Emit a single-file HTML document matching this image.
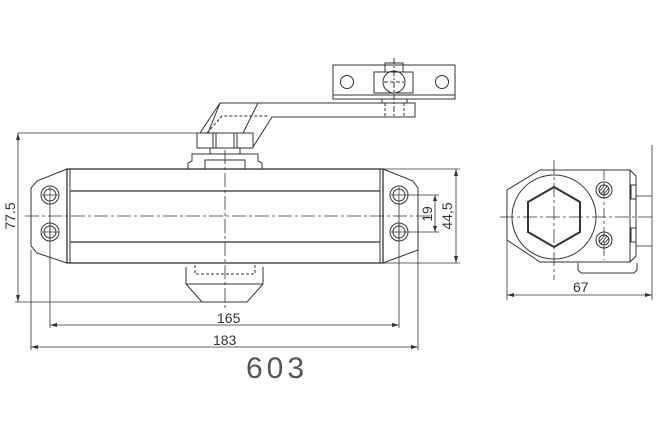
<!DOCTYPE html>
<html><head><meta charset="utf-8"><style>
html,body{margin:0;padding:0;background:#fff;width:661px;height:433px;overflow:hidden}
svg{display:block}
text{font-family:"Liberation Sans",sans-serif;fill:#333}
</style></head><body>
<svg width="661" height="433" viewBox="0 0 661 433" xmlns="http://www.w3.org/2000/svg">
<g fill="none" stroke="#333" stroke-width="1">
<!-- top bracket -->
<rect x="333" y="65" width="122" height="34"/>
<line x1="333" y1="95" x2="455" y2="95"/>
<circle cx="347" cy="82" r="6.5"/>
<circle cx="442" cy="82" r="6.5"/>
<rect x="374" y="72" width="39" height="21"/>
<rect x="385" y="63" width="18" height="9"/>
<circle cx="394" cy="82" r="11"/>
<line x1="384" y1="82" x2="404" y2="82" stroke-dasharray="4,2"/>
<line x1="394" y1="58" x2="394" y2="116" stroke-dasharray="6,2,2,2"/>
<rect x="382" y="99" width="25" height="4"/>
<line x1="385" y1="103" x2="385" y2="117" stroke-dasharray="3,2"/>
<line x1="404" y1="103" x2="404" y2="117" stroke-dasharray="3,2"/>
<!-- arm -->
<path d="M200 133 L220 103 L415 103 L415 117 L272 117 L253 147"/>
<path d="M207 133 L222 116 L268 116" stroke-dasharray="3,2"/>
<line x1="220" y1="103" x2="208" y2="133"/>
<line x1="258" y1="103" x2="243" y2="133"/>
<rect x="197" y="133" width="56" height="15"/>
<rect x="213" y="133" width="24" height="15"/>
<line x1="216" y1="133" x2="216" y2="148"/>
<line x1="234" y1="133" x2="234" y2="148"/>
<rect x="210" y="148" width="30" height="6"/>
<path d="M188 169 L188 163 L192 161 L192 154 L258 154 L258 161 L262 163 L262 169"/>
<rect x="205" y="160" width="40" height="9"/>
<!-- body -->
<rect x="67" y="169" width="316" height="94" stroke-width="1.3"/>
<line x1="70" y1="169" x2="70" y2="263"/>
<line x1="380" y1="169" x2="380" y2="263"/>
<line x1="70" y1="191" x2="380" y2="191" stroke-width="1.3"/>
<line x1="70" y1="242" x2="380" y2="242" stroke-width="1.3"/>
<path d="M67 169 L37 181 L31 188 L31 246 L37 253 L67 263"/>
<path d="M383 169 L413 181 L418 188 L418 250 L383 263"/>
<g>
<circle cx="50" cy="195" r="9"/><circle cx="50" cy="195" r="6"/>
<circle cx="50" cy="232" r="9"/><circle cx="50" cy="232" r="6"/>
<circle cx="399" cy="195" r="9"/><circle cx="399" cy="195" r="6"/>
<circle cx="399" cy="232" r="9"/><circle cx="399" cy="232" r="6"/>
<path d="M42 195h16M50 187v16M42 232h16M50 224v16M391 195h16M399 187v16M391 232h16M399 224v16" stroke-width="0.7"/>
</g>
<!-- bottom piece -->
<path d="M186 267 L186 284 L202 302 L247 302 L263 284 L263 267"/>
<line x1="186" y1="284" x2="263" y2="284"/>
<path d="M195 265 L195 274 L255 274 L255 265" stroke-dasharray="3,2"/>
<!-- centerlines -->
<line x1="25" y1="216" x2="430" y2="216" stroke-dasharray="14,3,3,3" stroke-width="0.8"/>
<line x1="225" y1="150" x2="225" y2="310" stroke-dasharray="14,3,3,3" stroke-width="0.8"/>
<!-- dims left -->
<line x1="18" y1="133" x2="200" y2="133" stroke-width="0.7"/>
<line x1="15" y1="302" x2="202" y2="302" stroke-width="0.7"/>
<line x1="18" y1="133" x2="18" y2="302" stroke-width="0.8"/>
<line x1="31" y1="250" x2="31" y2="350" stroke-width="0.8"/>
<line x1="50" y1="203" x2="50" y2="328" stroke-width="0.8"/>
<line x1="399" y1="203" x2="399" y2="328" stroke-width="0.8"/>
<line x1="418" y1="250" x2="418" y2="350" stroke-width="0.8"/>
<line x1="50" y1="325" x2="399" y2="325" stroke-width="0.8"/>
<line x1="31" y1="347" x2="418" y2="347" stroke-width="0.8"/>
<!-- dims right -->
<line x1="383" y1="169" x2="460" y2="169" stroke-width="0.7"/>
<line x1="383" y1="263" x2="460" y2="263" stroke-width="0.7"/>
<line x1="456" y1="169" x2="456" y2="263" stroke-width="0.8"/>
<line x1="407" y1="195" x2="439" y2="195" stroke-width="0.7"/>
<line x1="407" y1="232" x2="439" y2="232" stroke-width="0.7"/>
<line x1="435" y1="195" x2="435" y2="232" stroke-width="0.8"/>
<!-- side view -->
<path d="M507 190 L540 170 L630 170 L630 262 L540 262 L507 240 Z"/>
<circle cx="554" cy="217" r="42"/>
<polygon points="554,187 580,202 580,232 554,247 528,232 528,202" stroke-width="2"/>
<circle cx="604" cy="190" r="8"/><circle cx="604" cy="190" r="5"/>
<circle cx="604" cy="240" r="8"/><circle cx="604" cy="240" r="5"/>
<path d="M601 194 L607 186 M603 195 L609 188 M599 192 L605 185 M601 244 L607 236 M603 245 L609 238 M599 242 L605 235" stroke-width="0.8"/>
<path d="M630 170 L636 176 L636 256 L630 262"/>
<rect x="631" y="185" width="5" height="14"/>
<rect x="631" y="228" width="5" height="14"/>
<line x1="636" y1="196" x2="652" y2="196" stroke-width="0.8"/>
<line x1="636" y1="246" x2="652" y2="246" stroke-width="0.8"/>
<line x1="652" y1="145" x2="652" y2="300" stroke-width="0.8"/>
<path d="M578 263 L578 270 L581 273 L634 273 L637 270 L637 263"/>
<line x1="500" y1="217" x2="655" y2="217" stroke-dasharray="14,3,3,3" stroke-width="0.8"/>
<line x1="554" y1="160" x2="554" y2="280" stroke-dasharray="14,3,3,3" stroke-width="0.8"/>
<line x1="604" y1="170" x2="604" y2="260" stroke-dasharray="10,3,3,3" stroke-width="0.8"/>
<line x1="507" y1="240" x2="507" y2="300" stroke-width="0.8"/>
<line x1="507" y1="295" x2="652" y2="295" stroke-width="0.8"/>
</g>
<g fill="#333">
<path d="M18 133 l-2 7 h4z M18 302 l-2 -7 h4z"/>
<path d="M50 325 l7 -2 v4z M399 325 l-7 -2 v4z"/>
<path d="M31 347 l7 -2 v4z M418 347 l-7 -2 v4z"/>
<path d="M456 169 l-2 7 h4z M456 263 l-2 -7 h4z"/>
<path d="M435 195 l-2 6 h4z M435 232 l-2 -6 h4z"/>
<path d="M507 295 l7 -2 v4z M652 295 l-7 -2 v4z"/>
</g>
<text x="217" y="323" font-size="14">165</text>
<text x="213" y="345" font-size="14">183</text>
<text x="277" y="378" font-size="30" text-anchor="middle" font-weight="normal" letter-spacing="4" style="fill:#555">603</text>
<text x="573" y="292" font-size="14">67</text>
<text transform="translate(15,216) rotate(-90)" font-size="14" text-anchor="middle">77.5</text>
<text transform="translate(452,216) rotate(-90)" font-size="14" text-anchor="middle">44,5</text>
<text transform="translate(432,214) rotate(-90)" font-size="14" text-anchor="middle">19</text>
</svg>
</body></html>
